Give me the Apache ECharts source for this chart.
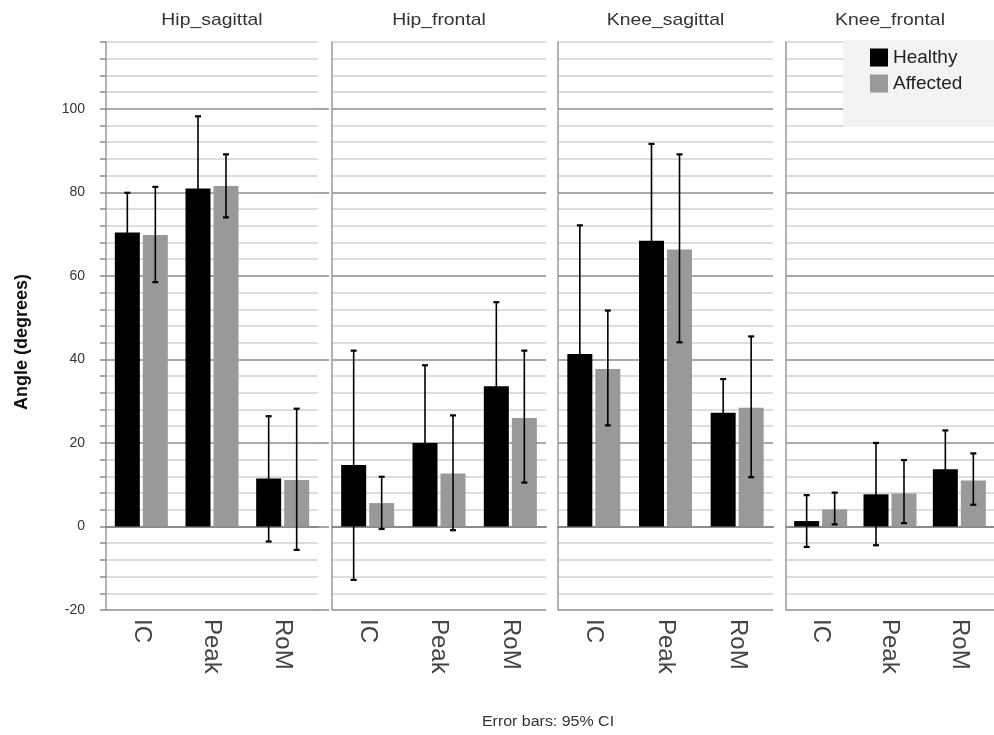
<!DOCTYPE html>
<html>
<head>
<meta charset="utf-8">
<title>Joint angles: Healthy vs Affected</title>
<script src="https://cdn.jsdelivr.net/npm/echarts@6/dist/echarts.min.js"></script>
<style>
  html, body { margin: 0; padding: 0; background: #fff; }
  #chart { width: 994px; height: 735px; }
</style>
</head>
<body>
<div id="chart"></div>
<script>
// ---- data ----
const categories = ['IC', 'Peak', 'RoM'];
const panelTitles = ['Hip_sagittal', 'Hip_frontal', 'Knee_sagittal', 'Knee_frontal'];
const groupNames = ['Healthy', 'Affected'];
const yTickLabels = [-20, 0, 20, 40, 60, 80, 100];

// mean angle per category (IC, Peak, RoM)
const hipSagHealthy = [70.4, 80.9, 11.5];
const hipSagAffected = [69.8, 81.5, 11.1];
const hipFrontHealthy = [14.7, 20.0, 33.6];
const hipFrontAffected = [5.6, 12.7, 26.0];
const kneeSagHealthy = [41.3, 68.4, 27.2];
const kneeSagAffected = [37.7, 66.3, 28.4];
const kneeFrontHealthy = [1.3, 7.7, 13.7];
const kneeFrontAffected = [4.1, 7.9, 11.0];

// 95% confidence intervals [low, high]
const hipSagHealthyCI = [[60.9, 79.9], [63.6, 98.2], [-3.6, 26.4]];
const hipSagAffectedCI = [[58.5, 81.3], [74.0, 89.1], [-5.6, 28.2]];
const hipFrontHealthyCI = [[-12.8, 42.1], [1.4, 38.6], [13.5, 53.7]];
const hipFrontAffectedCI = [[-0.6, 11.9], [-0.9, 26.6], [10.5, 42.1]];
const kneeSagHealthyCI = [[10.5, 72.1], [45.2, 91.6], [19.1, 35.3]];
const kneeSagAffectedCI = [[24.2, 51.7], [44.1, 89.1], [11.8, 45.5]];
const kneeFrontHealthyCI = [[-4.9, 7.5], [-4.5, 20.0], [4.4, 23.0]];
const kneeFrontAffectedCI = [[0.5, 8.1], [0.8, 15.9], [5.2, 17.5]];

// ---- layout & style ----
const panelMeans = [
  [hipSagHealthy, hipSagAffected],
  [hipFrontHealthy, hipFrontAffected],
  [kneeSagHealthy, kneeSagAffected],
  [kneeFrontHealthy, kneeFrontAffected]
];
const panelCIs = [
  [hipSagHealthyCI, hipSagAffectedCI],
  [hipFrontHealthyCI, hipFrontAffectedCI],
  [kneeSagHealthyCI, kneeSagAffectedCI],
  [kneeFrontHealthyCI, kneeFrontAffectedCI]
];
const panelLeft = [106, 332, 558, 786];
const panelWidth = [212, 214, 215, 208];
const GRID_TOP = 42;
const GRID_HEIGHT = 568;
const Y_MIN = -20, Y_MAX = 116, Y_STEP = 4;
const BAR_W = 25, BAR_GAP = 3;
const groupColors = ['#000000', '#999999'];
const FONT = 'Arial, "Liberation Sans", sans-serif';
const TEXT_STRETCH = 1.14;   // horizontal widening of the header/footer text

const grid = [], xAxis = [], yAxis = [], series = [], graphic = [];

panelTitles.forEach((title, p) => {
  grid.push({ left: panelLeft[p], top: GRID_TOP, width: panelWidth[p], height: GRID_HEIGHT });
  xAxis.push({
    type: 'category', gridIndex: p, data: categories,
    axisLine: { show: true, lineStyle: { color: '#8a8a8a', width: 2 } },
    axisTick: { show: false },
    axisLabel: { rotate: -90, fontSize: 24, color: '#444', margin: 9, fontFamily: FONT },
    splitLine: { show: false }
  });
  yAxis.push({
    type: 'value', gridIndex: p, min: Y_MIN, max: Y_MAX, interval: Y_STEP,
    axisLine: { show: true, lineStyle: { color: '#9a9a9a', width: 1.5 } },
    axisTick: { show: p === 0, length: 6, lineStyle: { color: '#8a8a8a', width: 1.5 } },
    axisLabel: {
      show: p === 0, margin: 21, fontSize: 14, color: '#333', fontFamily: FONT,
      formatter: v => (yTickLabels.indexOf(v) >= 0 ? String(v) : '')
    },
    splitLine: {
      show: true,
      lineStyle: { color: ['#8c8c8c', '#d2d2d2', '#d2d2d2', '#d2d2d2', '#d2d2d2'], width: 1.5 }
    }
  });

  graphic.push({
    type: 'text', x: panelLeft[p] + panelWidth[p] / 2, y: 20, scaleX: TEXT_STRETCH,
    style: {
      text: title, fontSize: 17, fill: '#333', fontFamily: FONT,
      textAlign: 'center', textVerticalAlign: 'middle'
    }
  });

  groupNames.forEach((name, g) => {
    series.push({
      type: 'bar', name: name, xAxisIndex: p, yAxisIndex: p,
      data: panelMeans[p][g],
      barWidth: BAR_W, barGap: (BAR_GAP / BAR_W * 100) + '%',
      itemStyle: { color: groupColors[g] },
      z: 2
    });
  });

  // error bars (95% CI) for both groups of this panel
  const errData = [];
  groupNames.forEach((name, g) => {
    panelCIs[p][g].forEach((ci, c) => errData.push([c, ci[0], ci[1], g]));
  });
  series.push({
    type: 'custom', xAxisIndex: p, yAxisIndex: p, z: 5, silent: true,
    encode: { x: 0, y: [1, 2] },
    data: errData,
    renderItem: (params, api) => {
      const c = api.value(0), lo = api.value(1), hi = api.value(2), g = api.value(3);
      const top = api.coord([c, hi]);
      const bot = api.coord([c, lo]);
      const x = top[0] + (g === 0 ? -1 : 1) * (BAR_W + BAR_GAP) / 2;
      const capHalf = 3;
      const stroke = { stroke: '#000', lineWidth: 1.6 };
      const capStroke = { stroke: '#000', lineWidth: 2.2 };
      return {
        type: 'group',
        children: [
          { type: 'line', shape: { x1: x, y1: top[1], x2: x, y2: bot[1] }, style: stroke },
          { type: 'line', shape: { x1: x - capHalf, y1: top[1], x2: x + capHalf, y2: top[1] }, style: capStroke },
          { type: 'line', shape: { x1: x - capHalf, y1: bot[1], x2: x + capHalf, y2: bot[1] }, style: capStroke }
        ]
      };
    }
  });
});

// longer ticks at labelled values on the first panel
yAxis.push({
  type: 'value', gridIndex: 0, min: Y_MIN, max: Y_MAX, interval: 20,
  axisLine: { show: false },
  axisTick: { show: true, length: 11, customValues: yTickLabels, lineStyle: { color: '#8a8a8a', width: 1.5 } },
  axisLabel: { show: false },
  splitLine: { show: false }
});

graphic.push({
  type: 'text', x: 22, y: 342, rotation: Math.PI / 2,
  style: {
    text: 'Angle (degrees)', fontSize: 18, fontWeight: 'bold', fill: '#111',
    fontFamily: FONT, textAlign: 'center', textVerticalAlign: 'middle'
  }
});
graphic.push({
  type: 'text', x: 548, y: 722, scaleX: TEXT_STRETCH,
  style: {
    text: 'Error bars: 95% CI', fontSize: 14, fill: '#333', fontFamily: FONT,
    textAlign: 'center', textVerticalAlign: 'middle'
  }
});

const chart = echarts.init(document.getElementById('chart'), null, { renderer: 'canvas' });
chart.setOption({
  animation: false,
  backgroundColor: '#ffffff',
  grid, xAxis, yAxis, series, graphic,
  legend: {
    data: groupNames, orient: 'vertical', left: 843, top: 40,
    backgroundColor: '#f3f3f3', padding: [8, 40, 34, 27],
    itemWidth: 18, itemHeight: 18, itemGap: 7, icon: 'rect',
    textStyle: { fontSize: 19, color: '#222', fontFamily: FONT }
  }
});
</script>
</body>
</html>
